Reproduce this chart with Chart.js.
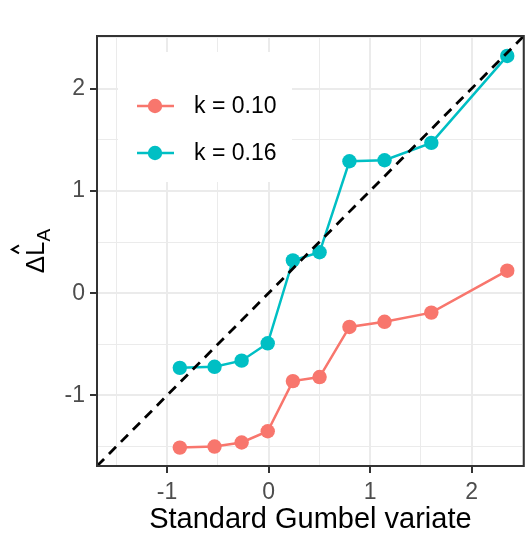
<!DOCTYPE html>
<html>
<head>
<meta charset="utf-8">
<script src="https://cdn.jsdelivr.net/npm/chart.js@4.4.1/dist/chart.umd.min.js"></script>
<style>
  html, body { margin: 0; padding: 0; background: #fff; }
</style>
</head>
<body>
<canvas id="chart" width="531" height="553"></canvas>
<script>
// values
const gumbelX = [-0.874, -0.532, -0.265, -0.008, 0.240, 0.503, 0.797, 1.143, 1.604, 2.352];
const k010 = [-1.51, -1.50, -1.46, -1.35, -0.86, -0.82, -0.33, -0.28, -0.19, 0.22];
const k016 = [-0.73, -0.72, -0.66, -0.49, 0.32, 0.40, 1.29, 1.30, 1.47, 2.32];
const seriesLabels = ['k = 0.10', 'k = 0.16'];
const seriesColors = ['#F8766D', '#00BFC4'];
const axisLimits = [-1.69, 2.515];
const majorTicks = [-1, 0, 1, 2];
const minorTicks = [-1.5, -0.5, 0.5, 1.5, 2.5];
const xTitle = 'Standard Gumbel variate';

const FONT = '"Liberation Sans", Arial, sans-serif';
const toPoints = ys => ys.map((y, i) => ({ x: gumbelX[i], y }));
const isMajor = v => majorTicks.includes(v);

const gridOpts = {
  color: '#EBEBEB',
  lineWidth: ctx => (ctx.tick && isMajor(ctx.tick.value) ? 2 : 1),
  tickLength: 7,
  tickColor: ctx => (ctx.tick && isMajor(ctx.tick.value) ? '#333333' : 'rgba(0,0,0,0)'),
  tickWidth: 2
};

const setTicks = scale => {
  scale.ticks = [...minorTicks, ...majorTicks].sort((a, b) => a - b).map(v => ({ value: v }));
};

const tickLabel = v => (isMajor(v) ? String(v) : '');

// panel border, legend box and the y title with hat + subscript
const decorations = {
  id: 'decorations',
  afterDatasetsDraw(chart) {
    const { ctx, chartArea: a } = chart;
    ctx.save();
    // legend inside panel
    const bx = a.left + 21, by = a.top + 16;
    ctx.fillStyle = '#fff';
    ctx.fillRect(bx, by, 174, 130);
    seriesLabels.forEach((lab, i) => {
      const y = by + 54 + i * 47;
      ctx.strokeStyle = seriesColors[i];
      ctx.lineWidth = 2.5;
      ctx.beginPath();
      ctx.moveTo(bx + 19, y);
      ctx.lineTo(bx + 56, y);
      ctx.stroke();
      ctx.fillStyle = seriesColors[i];
      ctx.beginPath();
      ctx.arc(bx + 37, y, 7.2, 0, Math.PI * 2);
      ctx.fill();
      ctx.fillStyle = '#000';
      ctx.font = '23px ' + FONT;
      ctx.textAlign = 'left';
      ctx.textBaseline = 'middle';
      ctx.fillText(lab, bx + 76, y + 1);
    });
    ctx.restore();
  },
  afterDraw(chart) {
    const { ctx, chartArea: a } = chart;
    ctx.save();
    ctx.strokeStyle = '#333333';
    ctx.lineWidth = 2;
    ctx.strokeRect(a.left, a.top, a.right - a.left, a.bottom - a.top);

    // y title: Δ L-hat subscript A, rotated
    const cx = 44, cy = (a.top + a.bottom) / 2;
    ctx.translate(cx, cy);
    ctx.rotate(-Math.PI / 2);
    ctx.fillStyle = '#000';
    ctx.textBaseline = 'alphabetic';
    ctx.textAlign = 'left';
    const big = '26px ' + FONT, small = '19px ' + FONT;
    ctx.font = big;
    const wD = ctx.measureText('Δ').width;
    const wL = ctx.measureText('L').width;
    ctx.font = small;
    const wA = ctx.measureText('A').width;
    let x0 = -(wD + wL + wA) / 2;
    ctx.font = big;
    ctx.fillText('Δ', x0, 0);
    ctx.fillText('L', x0 + wD, 0);
    // hat over L
    const hx = x0 + wD + wL * 0.45;
    ctx.strokeStyle = '#000';
    ctx.lineWidth = 2;
    ctx.beginPath();
    ctx.moveTo(hx - 4, -25);
    ctx.lineTo(hx, -32);
    ctx.lineTo(hx + 4, -25);
    ctx.stroke();
    ctx.font = small;
    ctx.fillText('A', x0 + wD + wL, 6);
    ctx.restore();
  }
};

new Chart(document.getElementById('chart'), {
  type: 'line',
  data: {
    datasets: [
      {
        label: 'y = x',
        data: [{ x: axisLimits[0], y: axisLimits[0] }, { x: axisLimits[1], y: axisLimits[1] }],
        borderColor: '#000',
        borderWidth: 2.8,
        borderDash: [10, 7],
        pointRadius: 0,
        order: 0
      },
      {
        label: seriesLabels[0],
        data: toPoints(k010),
        borderColor: seriesColors[0],
        backgroundColor: seriesColors[0],
        borderWidth: 2.5,
        pointRadius: 7.2,
        pointBorderWidth: 0,
        order: 2
      },
      {
        label: seriesLabels[1],
        data: toPoints(k016),
        borderColor: seriesColors[1],
        backgroundColor: seriesColors[1],
        borderWidth: 2.5,
        pointRadius: 7.2,
        pointBorderWidth: 0,
        order: 1
      }
    ]
  },
  options: {
    responsive: false,
    animation: false,
    layout: { padding: { top: 36, right: 4, left: 0, bottom: 0 } },
    plugins: { legend: { display: false }, tooltip: { enabled: false } },
    scales: {
      x: {
        type: 'linear',
        min: axisLimits[0],
        max: axisLimits[1],
        afterBuildTicks: setTicks,
        afterFit: s => { s.height = 87; },
        grid: gridOpts,
        border: { display: false },
        ticks: {
          callback: tickLabel,
          autoSkip: false,
          maxRotation: 0,
          padding: 6,
          color: '#4D4D4D',
          font: { family: FONT, size: 23 }
        },
        title: {
          display: true,
          text: xTitle,
          color: '#000',
          font: { family: FONT, size: 29 },
          padding: { top: 0, bottom: 16 }
        }
      },
      y: {
        type: 'linear',
        min: axisLimits[0],
        max: axisLimits[1],
        afterBuildTicks: setTicks,
        afterFit: s => { s.width = 97; },
        grid: gridOpts,
        border: { display: false },
        ticks: {
          callback: tickLabel,
          autoSkip: false,
          padding: 5,
          color: '#4D4D4D',
          font: { family: FONT, size: 23 }
        }
      }
    }
  },
  plugins: [decorations]
});
</script>
</body>
</html>
